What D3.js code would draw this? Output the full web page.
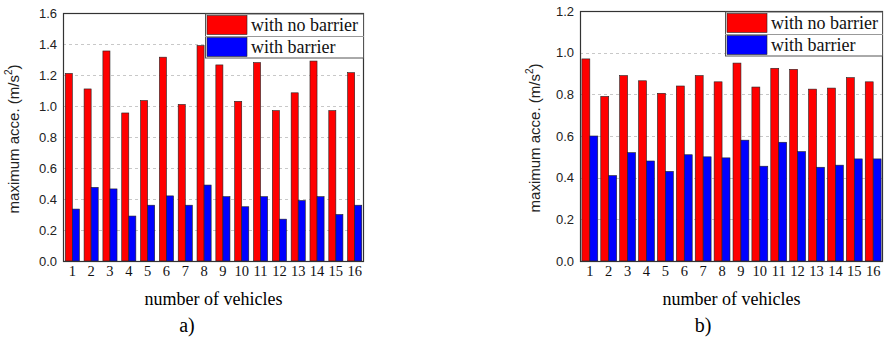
<!DOCTYPE html>
<html>
<head>
<meta charset="utf-8">
<script src="https://cdn.jsdelivr.net/npm/d3@7"></script>
<style>
  body { margin: 0; background: #fff; }
  svg { display: block; }
  .serif { font-family: "Liberation Serif", "Times New Roman", Times, "DejaVu Serif", serif; }
  .sans { font-family: "Liberation Sans", Arial, Helvetica, sans-serif; }
</style>
</head>
<body>
<svg id="fig" width="884" height="337"></svg>
<script>
// vehicles 1..16
const vehicules = d3.range(1, 17).map(String);
const series = ["with no barrier", "with barrier"];
const couleurs = ["#ff0000", "#0000ff"];

// a) 
const sansBarriereA = [1.21, 1.11, 1.355, 0.955, 1.035, 1.315, 1.01, 1.39, 1.265, 1.03, 1.28, 0.97, 1.085, 1.29, 0.97, 1.215];
const avecBarriereA = [0.335, 0.475, 0.465, 0.29, 0.36, 0.42, 0.36, 0.49, 0.415, 0.35, 0.415, 0.27, 0.39, 0.415, 0.30, 0.36];
const ticksA = [0, 0.2, 0.4, 0.6, 0.8, 1.0, 1.2, 1.4, 1.6];

// b)
const sansBarriereB = [0.97, 0.79, 0.89, 0.865, 0.805, 0.84, 0.89, 0.86, 0.95, 0.835, 0.925, 0.92, 0.825, 0.83, 0.88, 0.86];
const avecBarriereB = [0.60, 0.41, 0.52, 0.48, 0.43, 0.51, 0.50, 0.495, 0.58, 0.455, 0.57, 0.525, 0.45, 0.46, 0.49, 0.49];
const ticksB = [0, 0.2, 0.4, 0.6, 0.8, 1.0, 1.2];

const svg = d3.select("#fig");

function dessineGraphe(opt){ // one panel
  const g = svg.append("g");
  const x = d3.scaleBand().domain(vehicules).range([opt.x0, opt.x1])
              .paddingInner(opt.padIn).paddingOuter(opt.padOut);
  const xs = d3.scaleBand().domain([0, 1]).range([0, x.bandwidth()]);
  const y = d3.scaleLinear().domain([0, d3.max(opt.ticks)]).range([opt.y0, opt.y1]);

  // grid
  g.append("g").selectAll("line").data(opt.ticks.slice(1, -1)).join("line")
    .attr("x1", opt.x0).attr("x2", opt.x1)
    .attr("y1", d => Math.round(y(d)) + 0.5).attr("y2", d => Math.round(y(d)) + 0.5)
    .attr("stroke", "#c8c8c8").attr("stroke-dasharray", "3,3");

  // bars
  const valeurs = [opt.rouge, opt.bleu];
  valeurs.forEach((vals, s) => {
    g.append("g").selectAll("rect").data(vals).join("rect")
      .attr("x", (d, i) => x(vehicules[i]) + xs(s))
      .attr("y", d => y(d))
      .attr("width", xs.bandwidth())
      .attr("height", d => y(0) - y(d))
      .attr("fill", couleurs[s]).attr("stroke", "#222").attr("stroke-width", 0.6);
  });

  // frame
  g.append("rect").attr("x", opt.x0 + 0.5).attr("y", opt.y1 + 0.5)
    .attr("width", opt.x1 - opt.x0 - 1).attr("height", opt.y0 - opt.y1)
    .attr("fill", "none").attr("stroke", "#333").attr("stroke-width", 1.2);

  // y axis
  const ay = g.append("g").attr("transform", `translate(${opt.x0},0)`)
    .call(d3.axisLeft(y).tickValues(opt.ticks).tickFormat(d3.format(".1f")).tickSize(0).tickPadding(6));
  ay.select(".domain").remove();
  ay.attr("font-family", null).attr("class", "sans");
  ay.selectAll("text").attr("font-size", 13).attr("fill", "#222");

  // x axis
  const ax = g.append("g").attr("transform", `translate(0,${opt.y0})`)
    .call(d3.axisBottom(x).tickSize(0).tickPadding(5));
  ax.select(".domain").remove();
  ax.attr("font-family", null).attr("class", "serif");
  ax.selectAll("text").attr("font-size", 14.5).attr("fill", "#111");

  // titles
  g.append("text").attr("class", "serif").attr("x", (opt.x0 + opt.x1) / 2).attr("y", opt.y0 + 44)
    .attr("text-anchor", "middle").attr("font-size", 18)
    .text("number of vehicles");
  const ty = g.append("text").attr("class", "sans")
    .attr("transform", `translate(${opt.titreX},${(opt.y0 + opt.y1) / 2 + 2}) rotate(-90)`)
    .attr("text-anchor", "middle").attr("font-size", 15).attr("fill", "#222");
  ty.append("tspan").text("maximum acce. (m/s");
  ty.append("tspan").attr("dy", -7).attr("font-size", 10).text("2");
  ty.append("tspan").attr("dy", 7).text(")");
  g.append("text").attr("class", "serif").attr("x", opt.lettreX).attr("y", 332)
    .attr("text-anchor", "middle").attr("font-size", 20)
    .text(opt.lettre);

  // legend
  const lx = opt.legX, ly = opt.y1 + 1, lw = opt.x1 - opt.legX, rh = 22;
  const leg = g.append("g");
  leg.append("rect").attr("x", lx + 0.5).attr("y", ly).attr("width", lw - 1).attr("height", rh * 2)
    .attr("fill", "#fff").attr("stroke", "#555");
  leg.append("line").attr("x1", lx).attr("x2", lx + lw).attr("y1", ly + rh + 0.5).attr("y2", ly + rh + 0.5)
    .attr("stroke", "#999");
  series.forEach((nom, s) => {
    leg.append("rect").attr("x", lx + 2).attr("y", ly + s * rh + 1.5)
      .attr("width", 40).attr("height", rh - 3)
      .attr("fill", couleurs[s]).attr("stroke", "#222").attr("stroke-width", 0.6);
    leg.append("text").attr("class", "serif").attr("x", lx + 46).attr("y", ly + s * rh + 17)
      .attr("font-size", 18).attr("fill", "#111").text(nom);
  });
}

dessineGraphe({x0: 63, x1: 364, y0: 261, y1: 13, ticks: ticksA, rouge: sansBarriereA, bleu: avecBarriereA,
  padIn: 0.25, padOut: 0.12, titreX: 19, lettre: "a)", lettreX: 187, legX: 205});
dessineGraphe({x0: 580, x1: 883, y0: 261, y1: 11, ticks: ticksB, rouge: sansBarriereB, bleu: avecBarriereB,
  padIn: 0.16, padOut: 0.1, titreX: 540, lettre: "b)", lettreX: 703, legX: 725});
</script>
</body>
</html>
